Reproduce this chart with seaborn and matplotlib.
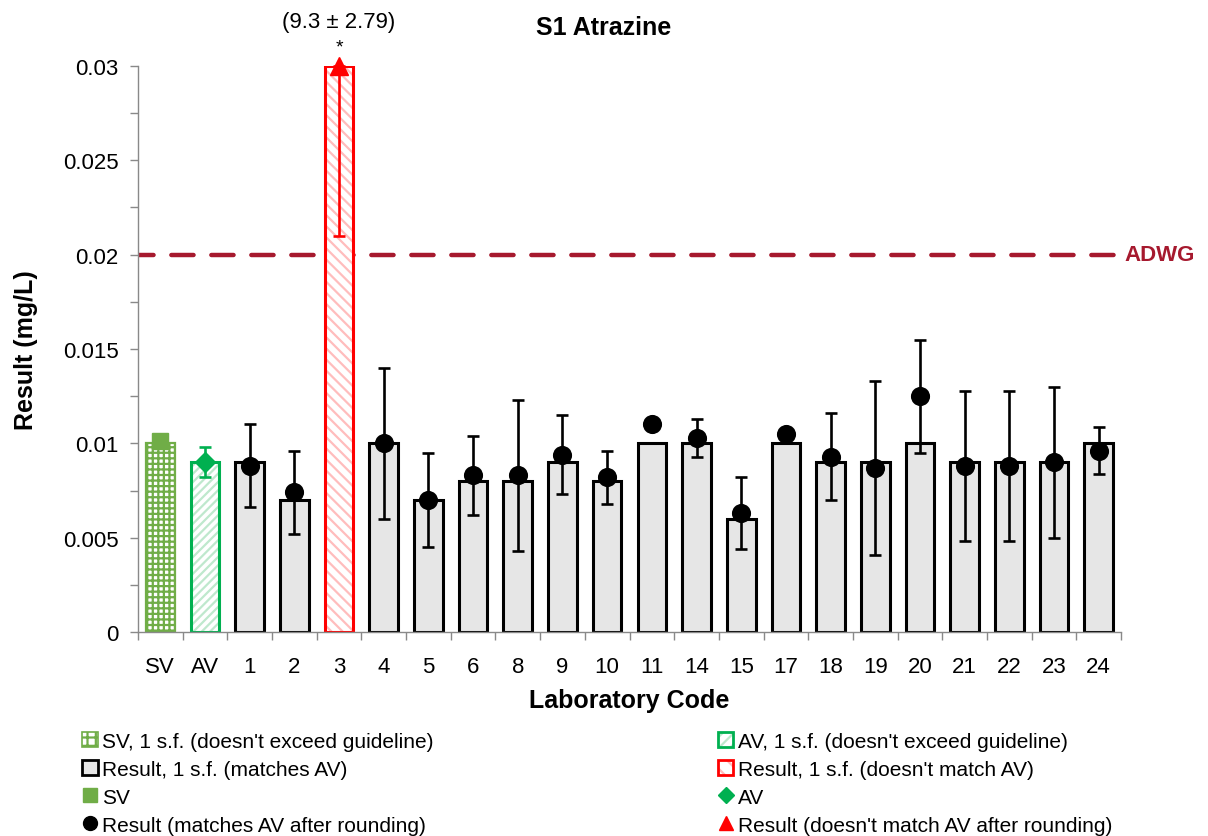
import numpy as np
import pandas as pd
import matplotlib
matplotlib.use("Agg")
import matplotlib.pyplot as plt
import matplotlib.transforms as mtransforms
import seaborn as sns
from matplotlib.patches import Patch, Rectangle
from matplotlib.lines import Line2D
from matplotlib.legend_handler import HandlerTuple
from matplotlib.ticker import MultipleLocator, FuncFormatter

# ---- data -------------------------------------------------------------
labels = ["SV", "AV", "1", "2", "3", "4", "5", "6", "8", "9", "10", "11",
          "14", "15", "17", "18", "19", "20", "21", "22", "23", "24"]
# values rounded to 1 significant figure (bar heights), mg/L
rounded = [0.01, 0.009, 0.009, 0.007, 9, 0.01, 0.007, 0.008, 0.008, 0.009,
           0.008, 0.01, 0.01, 0.006, 0.01, 0.009, 0.009, 0.01, 0.009, 0.009,
           0.009, 0.01]
# reported results, mg/L
results = [0.0101, 0.0090, 0.0088, 0.0074, 9.3, 0.0100, 0.0070, 0.0083,
           0.0083, 0.0094, 0.0082, 0.0110, 0.0103, 0.0063, 0.0105, 0.0093,
           0.0087, 0.0125, 0.0088, 0.0088, 0.0090, 0.0096]
# expanded uncertainties, mg/L (nan = not reported)
uncert = [0.0002, 0.0008, 0.0022, 0.0022, 2.79, 0.0040, 0.0025, 0.0021,
          0.0040, 0.0021, 0.0014, np.nan, 0.0010, 0.0019, np.nan, 0.0023,
          0.0046, 0.0030, 0.0040, 0.0040, 0.0040, 0.00125]
offscale_lab = "3"
offscale_lower = 0.021
guideline = 0.02
y_max = 0.03

# ---- styling ----------------------------------------------------------
sns.set_theme(style="white")
plt.rcParams["font.family"] = ["Liberation Sans", "DejaVu Sans"]
plt.rcParams["text.color"] = "black"
plt.rcParams["axes.labelcolor"] = "black"
plt.rcParams["hatch.linewidth"] = 1.6

SV_GREEN = "#70AD47"
AV_GREEN = "#00B050"
AV_HATCH = "#BFE8CD"
RED = "#FF0000"
RED_HATCH = "#FFBDBD"
GREY_FILL = "#E6E6E6"
AXIS_GREY = "#898989"
ADWG_RED = "#A6192E"

fig = plt.figure(figsize=(12.08, 8.37), dpi=100)
W, H = 1208, 837
ax = fig.add_axes([138 / W, 1 - 633 / H, (1121 - 138) / W, (633 - 67) / H])

df = pd.DataFrame({"lab": labels,
                   "bar": np.minimum(np.array(rounded, float), y_max),
                   "result": results, "unc": uncert})

sns.barplot(data=df, x="lab", y="bar", order=labels, color=GREY_FILL,
            saturation=1, width=0.64, edgecolor="black", linewidth=2.2,
            ax=ax, zorder=2)

bars = ax.patches
i_sv, i_av, i_off = 0, 1, labels.index(offscale_lab)

# SV bar: green grid
bars[i_sv].set_facecolor("white")
bars[i_sv].set_edgecolor(SV_GREEN)
bars[i_sv].set_hatch("+++")
bars[i_sv].set_linewidth(1.6)


def hatched(bar, hatch, hatch_color, edge_color):
    bar.set_facecolor("white")
    bar.set_edgecolor(hatch_color)
    bar.set_hatch(hatch)
    bar.set_linewidth(0)
    ax.add_patch(Rectangle(bar.get_xy(), bar.get_width(), bar.get_height(),
                           fill=False, edgecolor=edge_color, linewidth=2.2,
                           zorder=2.5))


hatched(bars[i_av], "////", AV_HATCH, AV_GREEN)
hatched(bars[i_off], "\\\\\\", RED_HATCH, RED)

# guideline
ax.axhline(guideline, color=ADWG_RED, lw=3.2, ls=(1.5, (5, 4)),
           dash_capstyle="round", zorder=1.5)
ax.text(1.004, guideline, "ADWG", transform=mtransforms.blended_transform_factory(
    ax.transAxes, ax.transData), ha="left", va="center", color=ADWG_RED,
    fontsize=16, fontweight="bold")

err_kw = dict(fmt="none", capsize=4.5, elinewidth=1.9, capthick=1.9, zorder=3)

# SV and AV
ax.errorbar(i_sv, results[i_sv], yerr=uncert[i_sv], ecolor=SV_GREEN, **err_kw)
ax.errorbar(i_av, results[i_av], yerr=uncert[i_av], ecolor=AV_GREEN, **err_kw)
ax.plot(i_sv, results[i_sv], marker="s", ms=11, color=SV_GREEN, ls="none", zorder=4)
ax.plot(i_av, results[i_av], marker="D", ms=10, color=AV_GREEN, ls="none", zorder=4)

# participant results
lab_df = df.iloc[2:].copy()
lab_df = lab_df[lab_df["lab"] != offscale_lab]
pos = [labels.index(l) for l in lab_df["lab"]]
has_unc = ~lab_df["unc"].isna().to_numpy()
ax.errorbar(np.array(pos)[has_unc], lab_df["result"].to_numpy()[has_unc],
            yerr=lab_df["unc"].to_numpy()[has_unc], ecolor="black", **err_kw)
sns.scatterplot(x=pos, y=lab_df["result"].to_numpy(), marker="o", s=190,
                color="black", edgecolor="black", linewidth=0, ax=ax, zorder=4,
                legend=False)

# off-scale result drawn at the top of the axis
ax.errorbar(i_off, y_max, yerr=[[y_max - offscale_lower], [0]], ecolor=RED,
            fmt="none", capsize=4.5, elinewidth=1.9, capthick=1.9, zorder=3,
            clip_on=False)
ax.plot(i_off, y_max, marker="^", ms=13, color=RED, ls="none", zorder=5,
        clip_on=False)
off_val = results[i_off]
off_unc = uncert[i_off]
ax.annotate("*", xy=(i_off, y_max), xytext=(0, 14), textcoords="offset points",
            ha="center", va="center", fontsize=14, annotation_clip=False)
ax.annotate(f"({off_val:g} ± {off_unc:g})", xy=(i_off, y_max), xytext=(0, 32),
            textcoords="offset points", ha="center", va="center",
            fontsize=16, annotation_clip=False)

# axes
ax.set_xlim(-0.5, len(labels) - 0.5)
ax.set_ylim(0, y_max)
ax.yaxis.set_major_locator(MultipleLocator(0.005))
ax.yaxis.set_minor_locator(MultipleLocator(0.0025))
ax.yaxis.set_major_formatter(FuncFormatter(lambda v, _: f"{v:g}"))
ax.set_xticks(range(len(labels)))
ax.set_xticklabels(labels)
ax.set_xticks(np.arange(-0.5, len(labels)), minor=True)
ax.tick_params(axis="y", which="both", left=True, direction="out", length=6,
               width=1, color=AXIS_GREY, labelsize=16, pad=8, labelcolor="black")
ax.tick_params(axis="x", which="major", bottom=True, length=0, pad=17,
               labelsize=16, labelcolor="black")
ax.tick_params(axis="x", which="minor", bottom=True, direction="out", length=6,
               width=1, color=AXIS_GREY)
for s in ("top", "right"):
    ax.spines[s].set_visible(False)
for s in ("left", "bottom"):
    ax.spines[s].set_color(AXIS_GREY)
    ax.spines[s].set_linewidth(1)
ax.grid(False)
ax.set_xlabel("Laboratory Code", fontsize=18, fontweight="bold", labelpad=8)
ax.set_ylabel("Result (mg/L)", fontsize=18, fontweight="bold", labelpad=18)

fig.text(0.5, 1 - 28 / H, "S1 Atrazine", ha="center", va="center",
         fontsize=18, fontweight="bold")

# legend
h_sv_bar = Patch(facecolor="white", edgecolor=SV_GREEN, hatch="++", linewidth=1.2)
h_res_bar = Patch(facecolor=GREY_FILL, edgecolor="black", linewidth=2)
h_sv_pt = Line2D([], [], marker="s", color=SV_GREEN, ls="none", ms=10)
h_res_pt = Line2D([], [], marker="o", color="black", ls="none", ms=10)
h_av_bar = (Patch(facecolor="white", edgecolor=AV_HATCH, hatch="///", linewidth=0),
            Patch(facecolor="none", edgecolor=AV_GREEN, linewidth=2))
h_off_bar = (Patch(facecolor="white", edgecolor=RED_HATCH, hatch="\\\\", linewidth=0),
             Patch(facecolor="none", edgecolor=RED, linewidth=2))
h_av_pt = Line2D([], [], marker="D", color=AV_GREEN, ls="none", ms=8)
h_off_pt = Line2D([], [], marker="^", color=RED, ls="none", ms=10)

handles = [h_sv_bar, h_res_bar, h_sv_pt, h_res_pt,
           h_av_bar, h_off_bar, h_av_pt, h_off_pt]
texts = ["SV, 1 s.f. (doesn't exceed guideline)",
         "Result, 1 s.f. (matches AV)",
         "SV",
         "Result (matches AV after rounding)",
         "AV, 1 s.f. (doesn't exceed guideline)",
         "Result, 1 s.f. (doesn't match AV)",
         "AV",
         "Result (doesn't match AV after rounding)"]
leg_top = 1 - 733 / H
fig.legend(handles, texts, ncol=2, mode="expand", loc="upper left",
           bbox_to_anchor=(82 / W, leg_top - 0.2, (1112 - 82) / W, 0.2),
           frameon=False, fontsize=15, handlelength=0.75, handleheight=0.75,
           handletextpad=0.2, labelspacing=0.43, borderaxespad=0,
           borderpad=0, handler_map={tuple: HandlerTuple(ndivide=1, pad=0)})

fig.savefig("out.png", dpi=100)
